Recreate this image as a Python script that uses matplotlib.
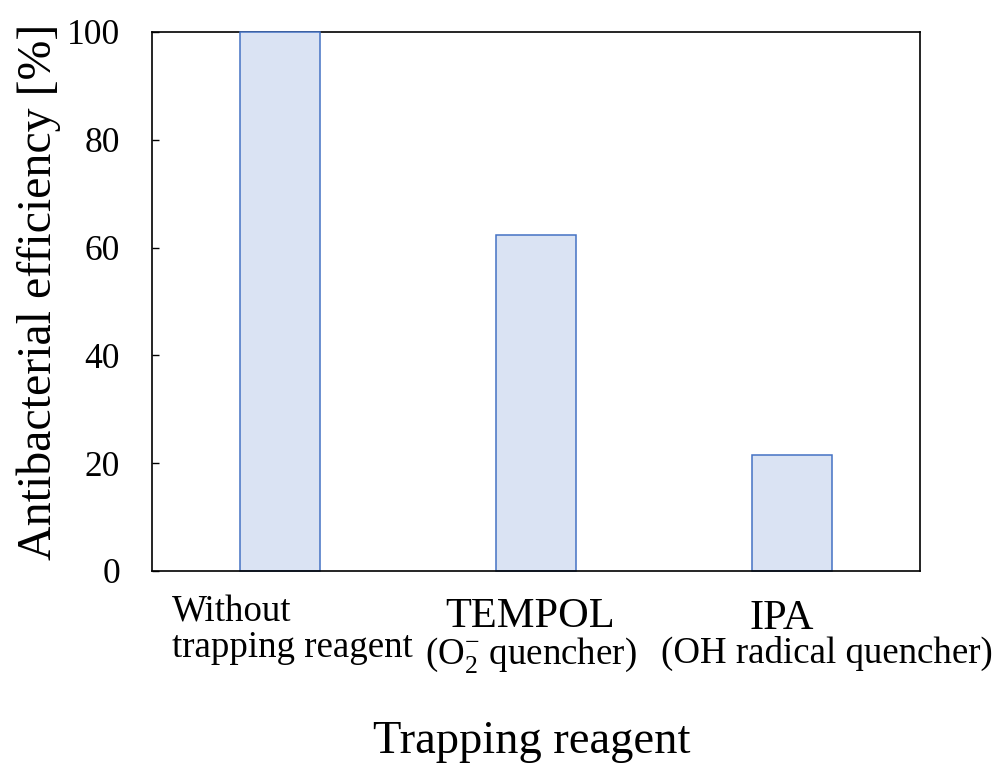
import matplotlib
matplotlib.use("Agg")
import matplotlib.pyplot as plt
import matplotlib.transforms as mtransforms

plt.rcParams['font.family'] = ['Liberation Serif', 'DejaVu Serif']
plt.rcParams['mathtext.fontset'] = 'custom'
plt.rcParams['mathtext.rm'] = 'Liberation Serif'
plt.rcParams['mathtext.it'] = 'Liberation Serif:italic'

# Data
categories = ["Without trapping reagent", "TEMPOL", "IPA"]
values = [100.0, 62.3, 21.5]
label_line1 = ["Without", "TEMPOL", "IPA"]
label_line2 = ["trapping reagent", r"(O$_2^{\mathrm{-}}$ quencher)", "(OH radical quencher)"]
y_ticks = [0, 20, 40, 60, 80, 100]
x_title = "Trapping reagent"
y_title = "Antibacterial efficiency [%]"

fig = plt.figure(figsize=(10, 7.72), dpi=100)
ax = fig.add_axes([0.152, 0.2604, 0.768, 0.6982])

x = list(range(len(categories)))
ax.bar(x, values, width=0.31, color="#DAE3F3", edgecolor="#4472C4",
       linewidth=1.1, zorder=3, clip_on=False)

ax.set_xlim(-0.5, len(categories) - 0.5)
ax.set_ylim(0, 100)
ax.set_yticks(y_ticks)
ax.set_yticklabels([str(t) for t in y_ticks], fontsize=25.5)
ax.tick_params(axis='y', direction='in', length=5, width=1.0, pad=23)
ax.set_xticks([])

for s in ax.spines.values():
    s.set_linewidth(1.2)
    s.set_color("black")
ax.spines['bottom'].set_zorder(4)

# category labels (two lines each)
trans = mtransforms.blended_transform_factory(ax.transData, ax.transAxes)
# line 1
ax.text(x[0] - 0.422, -0.0945, label_line1[0], transform=trans, ha='left',
        va='baseline', fontsize=26.6)
ax.text(x[1] - 0.024, -0.1035, label_line1[1], transform=trans, ha='center',
        va='baseline', fontsize=30.5)
ax.text(x[2] - 0.041, -0.1070, label_line1[2], transform=trans, ha='center',
        va='baseline', fontsize=30.5)
# line 2
ax.text(x[0] - 0.422, -0.160, label_line2[0], transform=trans, ha='left',
        va='baseline', fontsize=26.6)
ax.text(x[1] - 0.022, -0.173, label_line2[1], transform=trans, ha='center',
        va='baseline', fontsize=26.6)
ax.text(x[2] + 0.135, -0.171, label_line2[2], transform=trans, ha='center',
        va='baseline', fontsize=26.6)

ax.set_xlabel(x_title, fontsize=33.5)
ax.xaxis.label.set_va('baseline')
ax.xaxis.set_label_coords(0.495, -0.3377)

ax.set_ylabel(y_title, fontsize=34.5)
ax.yaxis.set_label_coords(-0.118, 0.518)

fig.savefig("out.png", dpi=100)
